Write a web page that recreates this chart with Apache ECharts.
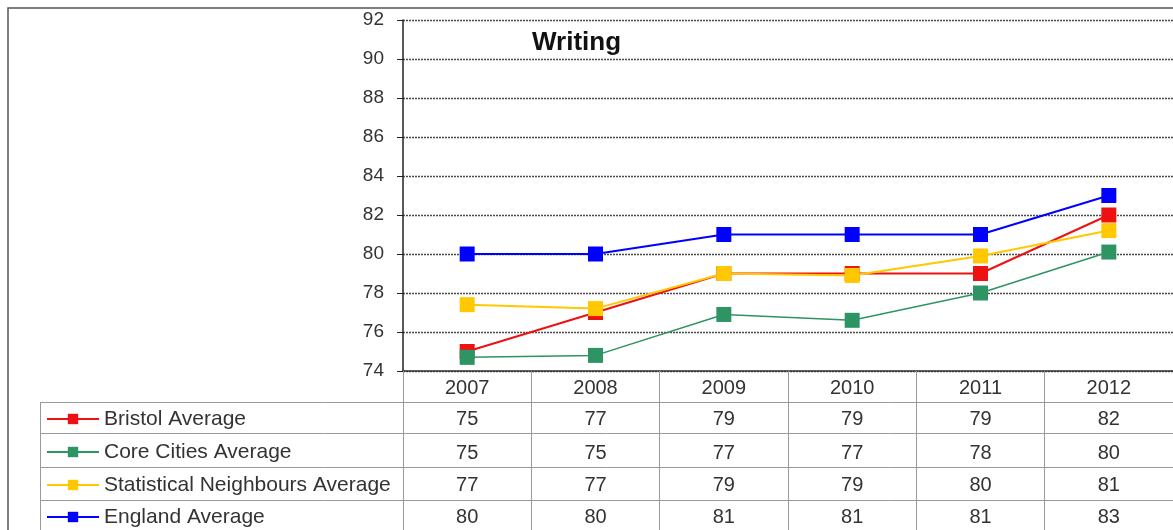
<!DOCTYPE html>
<html>
<head>
<meta charset="utf-8">
<style>
  html, body { margin: 0; padding: 0; background: #fff; }
  #chart { width: 1173px; height: 530px; }
</style>
<script src="https://cdn.jsdelivr.net/npm/echarts@6/dist/echarts.min.js"></script>
</head>
<body>
<div id="chart"></div>
<script>
// Key Stage attainment, Writing: average scores per year
const years = ['2007', '2008', '2009', '2010', '2011', '2012'];
const bristol = [75.0, 77.0, 79.0, 79.0, 79.0, 82.0];
const coreCities = [74.7, 74.8, 76.9, 76.6, 78.0, 80.1];
const statNeighbours = [77.4, 77.2, 79.0, 78.9, 79.9, 81.2];
const england = [80.0, 80.0, 81.0, 81.0, 81.0, 83.0];

const seriesNames = ['Bristol Average', 'Core Cities Average', 'Statistical Neighbours Average', 'England Average'];
const seriesValues = [bristol, coreCities, statNeighbours, england];
const seriesColors = ['#ee1111', '#2e9463', '#ffc800', '#0000ff'];
const lineWidths = [2, 1.5, 2, 2];

const FONT = '"Liberation Sans", Arial, sans-serif';
const TEXT = '#333';
const TABLE_LINE = '#9a9a9a';

const chart = echarts.init(document.getElementById('chart'), null, { renderer: 'canvas' });

// Table geometry (pixel y): lines above each data row, label margins, row centres
const AXIS_Y = 371;
const rowLines = [402, 433, 467, 500];
const rowMargins = [7.5, 10, 8, 7.5];
const rowCentres = [417, 450, 483, 515];

// One hidden-line category axis per table row prints the rounded values
const tableAxes = seriesValues.map((vals, k) => ({
  type: 'category',
  data: years,
  position: 'bottom',
  offset: rowLines[k] - AXIS_Y,
  axisLine: { show: false },
  axisTick: { show: false },
  axisLabel: {
    margin: rowMargins[k],
    fontFamily: FONT,
    fontSize: 20,
    color: TEXT,
    formatter: (v, i) => String(Math.round(vals[i]))
  }
}));

// One legend per table row so each key sits in its own row
const legends = seriesNames.map((name, k) => ({
  orient: 'horizontal',
  left: 46,
  top: rowCentres[k] - 10,
  itemWidth: 52,
  itemHeight: 13,
  itemGap: 6,
  padding: 0,
  data: [name],
  textStyle: { fontFamily: FONT, fontSize: 21, color: TEXT, lineHeight: 24 },
  selectedMode: false
}));

const graphics = [
  // outer chart frame
  { type: 'rect', shape: { x: 8, y: 8, width: 1200, height: 540 }, style: { fill: null, stroke: '#555', lineWidth: 1.5 }, silent: true },
  // legend column left border
  { type: 'line', shape: { x1: 40.5, y1: 402, x2: 40.5, y2: 530 }, style: { stroke: TABLE_LINE, lineWidth: 1 }, silent: true }
];
rowLines.forEach(y => {
  graphics.push({ type: 'line', shape: { x1: 40, y1: y + 0.5, x2: 1173, y2: y + 0.5 }, style: { stroke: TABLE_LINE, lineWidth: 1 }, silent: true });
});

chart.setOption({
  animation: false,
  backgroundColor: '#fff',
  title: {
    text: 'Writing',
    left: 527,
    top: 25,
    textStyle: { fontFamily: FONT, fontSize: 26, fontWeight: 'bold', color: '#111' }
  },
  legend: legends,
  grid: { left: 403, top: 20, width: 780, height: 351, containLabel: false },
  xAxis: [
    {
      type: 'category',
      data: years,
      boundaryGap: true,
      axisLine: { show: true, lineStyle: { color: '#333', width: 1.5 } },
      axisTick: { show: true, inside: false, length: 160, lineStyle: { color: TABLE_LINE, width: 1 } },
      axisLabel: { margin: 7.5, fontFamily: FONT, fontSize: 20, color: TEXT },
      splitLine: { show: false }
    },
    ...tableAxes
  ],
  yAxis: {
    type: 'value',
    min: 74,
    max: 92,
    interval: 2,
    axisLine: { show: true, lineStyle: { color: '#222', width: 1.5 } },
    axisTick: { show: true, length: 6, lineStyle: { color: '#222' } },
    axisLabel: { margin: 19, fontFamily: FONT, fontSize: 19, color: TEXT },
    splitLine: { show: true, lineStyle: { color: '#4a4a4a', width: 1.3, type: [2, 1] } }
  },
  series: seriesNames.map((name, k) => ({
    name: name,
    type: 'line',
    data: seriesValues[k],
    symbol: 'rect',
    symbolSize: 15,
    color: seriesColors[k],
    lineStyle: { width: lineWidths[k], color: seriesColors[k] },
    itemStyle: { color: seriesColors[k] },
    z: 3 + k
  })),
  graphic: graphics
});
</script>
</body>
</html>
